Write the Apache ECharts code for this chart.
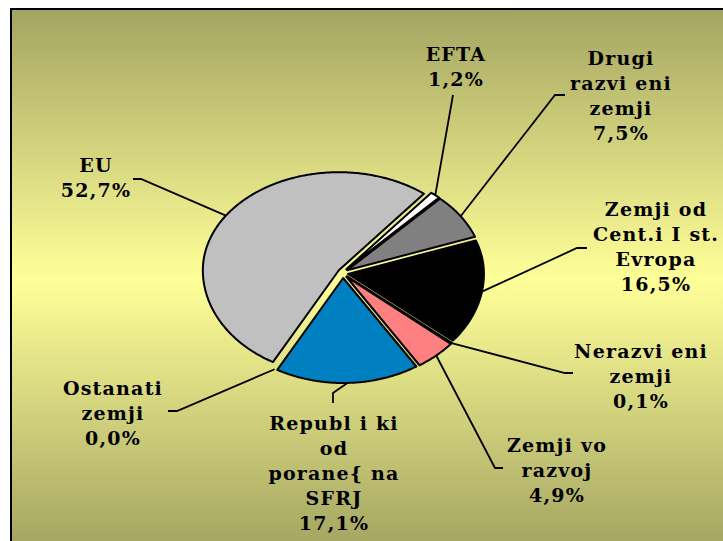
<!DOCTYPE html>
<html><head><meta charset="utf-8">
<script src="https://cdn.jsdelivr.net/npm/echarts@6/dist/echarts.min.js"></script>
<style>html,body{margin:0;padding:0;background:#fff}#c{width:723px;height:541px}#c text{letter-spacing:1.2px}</style>
</head><body><div id="c"></div>
<script>
// ---- data ----
const categories = ['EU', 'EFTA', 'Drugi razvi eni zemji', 'Zemji od Cent.i I st. Evropa', 'Nerazvi eni zemji', 'Zemji vo razvoj', 'Republ i ki od porane{ na SFRJ', 'Ostanati zemji'];
const labelLines = [['EU'], ['EFTA'], ['Drugi', 'razvi eni', 'zemji'], ['Zemji od', 'Cent.i I st.', 'Evropa'], ['Nerazvi eni', 'zemji'], ['Zemji vo', 'razvoj'], ['Republ i ki', 'od', 'porane{ na', 'SFRJ'], ['Ostanati', 'zemji']];
const shares = [52.7, 1.2, 7.5, 16.5, 0.1, 4.9, 17.1, 0.0];

// ---- styles / layout ----
const colors = ['#c0c0c0', '#ffffff', '#808080', '#000000', '#800080', '#ff8080', '#0080c0', '#ffff99'];
const PIE = { cx: 343, cy: 273, rx: 136, ryTop: 98, ryBot: 105, explode: 5, start: 119 };
const labelPos = [
  { x: 96, y: 177.5, line: [[141, 179], [133, 179]] },
  { x: 456, y: 66, line: [[453, 95]] },
  { x: 621, y: 95, line: [[555, 95], [565, 95]] },
  { x: 656, y: 246.5, line: [[577, 248], [587, 248]] },
  { x: 641, y: 375.5, line: [[565, 373], [573, 373]] },
  { x: 557, y: 469.5, line: [[495, 468], [503, 468]] },
  { x: 334, y: 472.5, line: [[333, 393], [333, 403]] },
  { x: 113, y: 412.5, line: [[177, 411], [168, 411]] }
];

const total = shares.reduce((a, b) => a + b, 0);
let acc = PIE.start;
const seriesData = shares.map((v, i) => {
  const a0 = acc, a1 = acc + v / total * 360;
  acc = a1;
  return { name: categories[i], value: [v, a0, a1] };
});

function pt(deg, ox, oy) {
  const t = deg * Math.PI / 180;
  const s = Math.sin(t);
  return [PIE.cx + ox + PIE.rx * Math.cos(t), PIE.cy + oy + s * (s < 0 ? PIE.ryTop : PIE.ryBot)];
}

function fmt(v) { return v.toFixed(1).replace('.', ',') + '%'; }

function renderItem(params, api) {
  const i = params.dataIndex;
  const v = api.value(0), a0 = api.value(1), a1 = api.value(2);
  const mid = (a0 + a1) / 2 * Math.PI / 180;
  const ox = Math.cos(mid) * PIE.explode, oy = Math.sin(mid) * PIE.explode;
  const children = [];
  if (v > 0) {
    const pts = [[PIE.cx + ox, PIE.cy + oy]];
    const n = Math.max(2, Math.ceil((a1 - a0) / 0.5));
    for (let k = 0; k <= n; k++) pts.push(pt(a0 + (a1 - a0) * k / n, ox, oy));
    children.push({ type: 'polygon', shape: { points: pts }, style: { fill: colors[i], stroke: '#000', lineWidth: 2, lineJoin: 'round' } });
  }
  const L = labelPos[i];
  const start = pt((a0 + a1) / 2, ox, oy);
  children.push({ type: 'polyline', shape: { points: [start].concat(L.line) }, style: { stroke: '#000', lineWidth: 1.8, fill: null } });
  children.push({
    type: 'text',
    style: {
      text: labelLines[i].concat([fmt(v)]).join('\n'),
      x: L.x, y: L.y, align: 'center', verticalAlign: 'middle',
      font: 'bold 19px "DejaVu Serif"', fill: '#000', lineHeight: 25
    }
  });
  return { type: 'group', children: children };
}

const chart = echarts.init(document.getElementById('c'), null, { renderer: 'svg' });
chart.setOption({
  animation: false,
  graphic: [{
    type: 'rect', z: -10, silent: true,
    shape: { x: 11, y: 9, width: 730, height: 540 },
    style: {
      fill: new echarts.graphic.LinearGradient(0, 0, 0, 1, [
        { offset: 0, color: '#a3a461' }, { offset: 0.5, color: '#ffff99' }, { offset: 1, color: '#a3a461' }
      ]),
      stroke: '#000', lineWidth: 2
    }
  }],
  series: [{
    type: 'custom', coordinateSystem: 'none', silent: true,
    renderItem: renderItem,
    data: seriesData
  }]
});
</script></body></html>
